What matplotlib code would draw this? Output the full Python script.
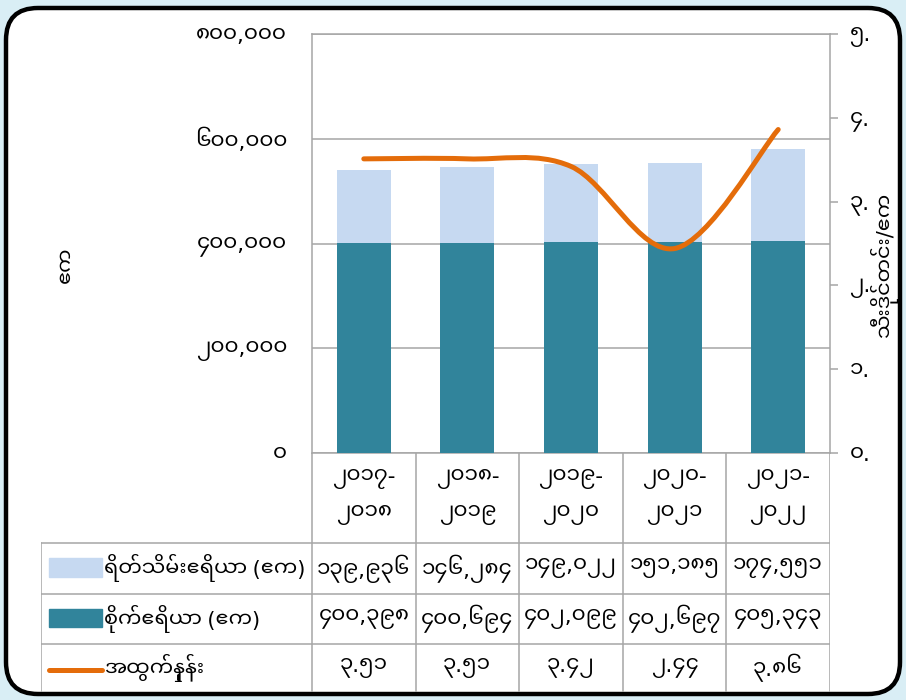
import numpy as np
import matplotlib
matplotlib.use('Agg')
import matplotlib.pyplot as plt
from matplotlib.patches import Rectangle, FancyBboxPatch, PathPatch
from matplotlib.path import Path

# data (Myanmar digits in the picture)
categories = ["၂၀၁၇-\n၂၀၁၈", "၂၀၁၈-\n၂၀၁၉", "၂၀၁၉-\n၂၀၂၀", "၂၀၂၀-\n၂၀၂၁", "၂၀၂၁-\n၂၀၂၂"]
harvested = [139936, 146284, 149022, 151185, 174551]
sown = [400398, 400694, 402099, 402697, 405343]
yields = [3.51, 3.51, 3.42, 2.44, 3.86]

left_ticks = [0, 200000, 400000, 600000, 800000]
right_ticks = [0, 1, 2, 3, 4, 5]

row_labels = ["ရိတ်သိမ်းဧရိယာ (ဧက)", "စိုက်ဧရိယာ (ဧက)", "အထွက်နှုန်း"]
left_label = "ဧက"
right_label = "သီးဒိုင်တင်း/ဧက"

LIGHT = '#c6d9f1'
DARK = '#31849b'
ORANGE = '#e46c0a'
GRID = '#a6a6a6'

MM = str.maketrans("0123456789", "၀၁၂၃၄၅၆၇၈၉")


def mm(s):
    return str(s).translate(MM)


plt.rcParams['font.family'] = ['Noto Sans Myanmar UI', 'DejaVu Sans']
FS = 15.5   # numbers
FL = 15     # labels

W, H = 906, 700
fig = plt.figure(figsize=(W / 100, H / 100), dpi=100)
fig.patch.set_facecolor('#d9eef5')

# rounded frame
bg = fig.add_axes([0, 0, 1, 1], zorder=-5)
bg.set_xlim(0, W)
bg.set_ylim(H, 0)
bg.axis('off')
bg.add_patch(FancyBboxPatch((6, 8), W - 12, H - 14,
                            boxstyle="round,pad=0,rounding_size=32",
                            facecolor='white', edgecolor='black', linewidth=3.2))

# plot area in pixels
L, R, T, B = 312, 830, 34, 453
ax = fig.add_axes([L / W, 1 - B / H, (R - L) / W, (B - T) / H])
ax.set_facecolor('none')
x = np.arange(len(categories))
ax.bar(x, sown, width=0.52, color=DARK, zorder=3)
ax.bar(x, harvested, width=0.52, bottom=sown, color=LIGHT, zorder=3)
ax.set_xlim(-0.5, len(categories) - 0.5)
ax.set_ylim(0, 800000)
ax.set_yticks(left_ticks)
ax.set_yticklabels([mm(f"{v:,}") for v in left_ticks], fontsize=FS)
ax.set_xticks([])
ax.yaxis.grid(True, color=GRID, linewidth=1.1, zorder=0)
ax.tick_params(axis='y', length=0, pad=18)
for s in ax.spines.values():
    s.set_color(GRID)
    s.set_linewidth(1.1)
ax.set_ylabel(left_label, fontsize=FL, rotation=90)
ax.yaxis.set_label_coords(-0.455, 0.45)

# yield line on right axis, smoothed like the original (catmull-rom)
ax2 = ax.twinx()
ax2.set_ylim(0, 5)
ax2.set_yticks(right_ticks)
ax2.set_yticklabels([mm(v) + "." for v in right_ticks], fontsize=FS)
ax2.tick_params(axis='y', length=6, width=1.1, color=GRID, pad=8)
for s in ax2.spines.values():
    s.set_visible(False)
ax2.set_ylabel(right_label, fontsize=FL, rotation=90)
ax2.yaxis.set_label_coords(1.078, 0.45)

pts = np.column_stack([x, yields]).astype(float)
ext = np.vstack([pts[0], pts, pts[-1]])
verts = [tuple(pts[0])]
codes = [Path.MOVETO]
for i in range(len(pts) - 1):
    p0, p1, p2, p3 = ext[i], ext[i + 1], ext[i + 2], ext[i + 3]
    verts += [tuple(p1 + (p2 - p0) / 6), tuple(p2 - (p3 - p1) / 6), tuple(p2)]
    codes += [Path.CURVE4] * 3
ax2.add_patch(PathPatch(Path(verts, codes), facecolor='none', edgecolor=ORANGE,
                        linewidth=3.6, capstyle='round', zorder=4))

# data table under the plot
unit = (R - L) / len(categories)


def px2x(p):
    return (p - L) / unit - 0.5


TB = 692
tab = fig.add_axes([41 / W, 1 - TB / H, (R - 41) / W, (TB - B) / H])
tab.set_xlim(px2x(41), len(categories) - 0.5)
tab.set_ylim(TB - B, 0)
tab.axis('off')
rows = [0, 90, 141, 191, TB - B]
x0 = px2x(41)
xe = len(categories) - 0.5
lk = dict(color=GRID, linewidth=1.1)
for yy in rows[1:4]:
    tab.plot([x0, xe], [yy, yy], **lk)
for xv in np.arange(len(categories) + 1) - 0.5:
    tab.plot([xv, xv], [0, rows[-1]], **lk)
tab.plot([x0, x0], [rows[1], rows[-1]], **lk)

for i, c in enumerate(categories):
    tab.text(i, (rows[0] + rows[1]) / 2 - 1, c, ha='center', va='center',
             fontsize=FS, linespacing=1.85)

values = [[mm(f"{v:,}") for v in harvested],
          [mm(f"{v:,}") for v in sown],
          [mm(f"{v:.2f}") for v in yields]]
for r in range(3):
    yc = (rows[r + 1] + rows[r + 2]) / 2
    for i, v in enumerate(values[r]):
        tab.text(i, yc, v, ha='center', va='center', fontsize=FS)
    tab.text(px2x(104), yc, row_labels[r], ha='left', va='center', fontsize=FL)

kx0, kx1 = px2x(49), px2x(102)
tab.add_patch(Rectangle((kx0, rows[1] + 15), kx1 - kx0, 19, color=LIGHT))
tab.add_patch(Rectangle((kx0, rows[2] + 15), kx1 - kx0, 18, color=DARK))
yc = (rows[3] + rows[4]) / 2 + 2
tab.plot([kx0, kx1], [yc, yc], color=ORANGE, linewidth=3.6, solid_capstyle='round')

fig.savefig('out.png', dpi=100, facecolor=fig.get_facecolor())
